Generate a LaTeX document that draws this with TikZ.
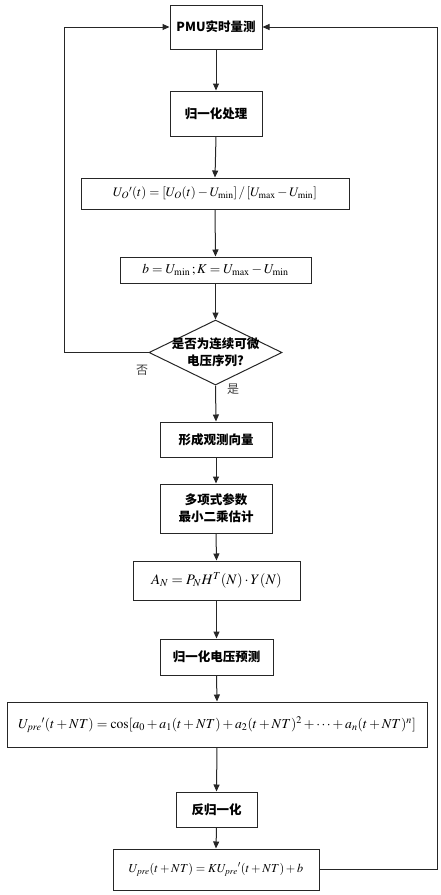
\documentclass[tikz,border=0pt]{standalone}
\usepackage{mathptmx}
\usepackage{fontspec}
\setmainfont{Liberation Serif}
\newfontfamily\cjk{Noto Sans CJK SC}
\usetikzlibrary{arrows.meta, shapes.geometric}

\begin{document}
\begin{tikzpicture}[x=1pt, y=-1pt,
    box/.style={draw=black!85, line width=1pt, inner sep=0pt, align=center,
      font=\cjk\bfseries\fontsize{12.5}{17}\selectfont},
    formula/.style={draw=black!85, line width=1pt, inner sep=0pt},
    decision/.style={diamond, draw=black!85, line width=1pt, inner sep=0pt},
    arrow/.style={-{Triangle[length=7pt, width=6pt]}, draw=black!85, line width=1pt},
    tag/.style={font=\cjk\fontsize{12}{14}\selectfont, text=black!75}]
  \useasboundingbox (0,0) rectangle (440,895);
  % Main flow
  \node[box, minimum width=92, minimum height=44] (pmu) at (216,27) {PMU实时量测};
  \node[box, minimum width=92, minimum height=45] (norm) at (216,113.5) {归一化处理};
  \node[formula, minimum width=268, minimum height=31, font=\fontsize{13}{15}\selectfont]
    (formU) at (215,193.5)
    {$U_O{}'(t)=[U_O(t)-U_{\min}]\,/\,[U_{\max}-U_{\min}]$};
  \node[formula, minimum width=191, minimum height=26, font=\fontsize{13.5}{15}\selectfont]
    (formbK) at (215.5,270)
    {$b=U_{\min}\,;K=U_{\max}-U_{\min}$};
  \node[decision, minimum width=133, minimum height=65] (judge) at (215.5,352.5) {};
  \node[box, draw=none] (judgetext) at (judge) {是否为连续可微\\电压序列?};
  \node[box, minimum width=112, minimum height=35] (vec) at (216,439.5) {形成观测向量};
  \node[box, minimum width=112, minimum height=49] (lsq) at (216,508.5) {多项式参数\\最小二乘估计};
  \node[formula, minimum width=167, minimum height=39, font=\fontsize{14.5}{16}\selectfont]
    (formA) at (216.5,580.5)
    {$A_N=P_N{}H^T(N)\cdot Y(N)$};
  \node[box, minimum width=113, minimum height=36] (pred) at (216.5,657) {归一化电压预测};
  \node[formula, minimum width=420, minimum height=45, font=\fontsize{13.7}{16}\selectfont]
    (formUp) at (217,724.5)
    {$U_{pre}{}'(t+NT)=\cos[a_0+a_1(t+NT)+a_2(t+NT)^2+\cdots+a_n(t+NT)^n]$};
  \node[box, minimum width=81, minimum height=35] (denorm) at (216.5,809.5) {反归一化};
  \node[formula, minimum width=206, minimum height=41, font=\fontsize{12.2}{14}\selectfont]
    (formUr) at (216,869.5)
    {$U_{pre}(t+NT)=KU_{pre}{}'(t+NT)+b$};
  % Arrows
  \foreach \a/\b in {pmu/norm, norm/formU, formU/formbK, formbK/judge,
      judge/vec, vec/lsq, lsq/formA, formA/pred, pred/formUp,
      formUp/denorm, denorm/formUr}
    \draw[arrow] (\a.south) -- (\b.north);
  % Feedback loops
  \coordinate (lcorner) at (64,352.5);
  \coordinate (rcorner) at (437,869.5);
  \draw[arrow] (judge.west) -- (lcorner) |- (pmu.west);
  \draw[arrow] (formUr.east) -- (rcorner) |- (pmu.east);
  \node[tag] (no) at (142,370) {否};
  \node[tag] (yes) at (233,389) {是};
\end{tikzpicture}
\end{document}
